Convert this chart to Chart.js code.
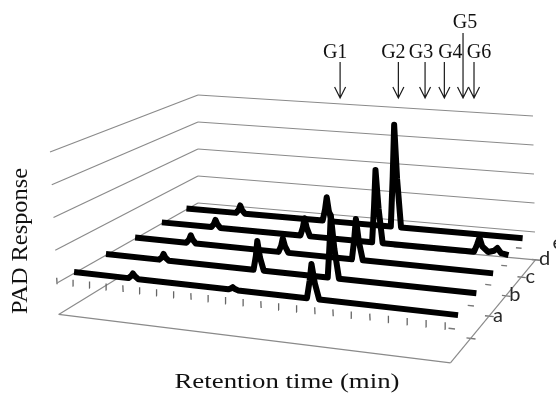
<!DOCTYPE html>
<html><head><meta charset="utf-8">
<script src="https://cdn.jsdelivr.net/npm/chart.js@4.4.1/dist/chart.umd.min.js"></script>
<style>html,body{margin:0;padding:0;background:#fff;}#wrap{width:556px;height:394px;position:relative;}</style>
</head><body><div id="wrap"><canvas id="c"></canvas></div>
<script>
// ---------------- DATA ----------------
const seriesNames = ['a', 'b', 'c', 'd', 'e'];
const seriesDepth = [0.1, 0.3, 0.5, 0.7, 0.9];
const timeA = [0, 3.36, 3.54, 3.65, 3.77, 3.97, 9.33, 9.5, 9.6, 9.7, 9.9, 13.86, 14.05, 14.2, 14.34, 14.55, 22.15];
const respA = [1, 1, 3, 5, 3, 1, 1, 2, 3, 2, 1, 1, 14, 27, 13, 1, 1];
const timeB = [0, 3.41, 3.59, 3.7, 3.82, 4.02, 9.26, 9.43, 9.55, 9.68, 9.88, 13.69, 13.86, 14.0, 14.14, 14.35, 22.15];
const respB = [1, 1, 3, 6, 3, 1, 1, 12, 24, 11, 1, 1, 26, 50, 24, 1, 1];
const timeC = [0, 3.41, 3.59, 3.7, 3.82, 4.02, 9.31, 9.48, 9.6, 9.73, 9.93, 13.84, 14.01, 14.15, 14.29, 14.5, 22.15];
const respC = [1, 1, 4, 7.5, 4, 1, 1, 6, 12.5, 6, 1, 1, 17, 34, 16, 1, 1];
const timeD = [0, 3.39, 3.57, 3.68, 3.8, 4.0, 9.29, 9.46, 9.58, 9.71, 9.91, 13.86, 14.03, 14.17, 14.31, 14.52, 20.1, 20.29, 20.45, 20.61, 20.95, 21.3, 21.5, 21.72, 22.15];
const respD = [1, 1, 4, 7.5, 4, 1, 1, 8, 16, 8, 1, 1, 31, 62, 30, 1, 1, 7, 13, 6, 2, 3.5, 6, 2, 1];
const timeE = [0, 3.51, 3.69, 3.8, 3.92, 4.12, 9.41, 9.58, 9.7, 9.83, 10.03, 13.89, 14.06, 14.2, 14.34, 14.55, 22.15];
const respE = [1, 1, 4, 8, 4, 1, 1, 11, 22, 10, 1, 1, 45, 90, 43, 1, 1];
const timeTicks = [0,1,2,3,4,5,6,7,8,9,10,11,12,13,14,15,16,17,18,19,20,21,22];
const responseGrid = [0, 25, 50, 75, 100];
const depthTicks = [0, 0.2, 0.4, 0.6, 0.8];
const floorDepthTicks = [0.2, 0.4, 0.6, 0.8, 1.0];
const peakLabels = ['G1', 'G2', 'G3', 'G4', 'G5', 'G6'];
const peakLabelTimes = [10.0, 13.9, 15.65, 16.9, 18.1, 18.8];
const timeMax = 22.5;
const respMax = 100;
const floorLevel = -24;

const seriesTimes = [timeA, timeB, timeC, timeD, timeE];
const seriesResp = [respA, respB, respC, respD, respE];

// ---------------- PROJECTION (layout) ----------------
const FL=[57,283], FR=[455,329], BL=[198,203], BR=[535,232];
const FLt=[50,152], FRt=[449,188], BLt=[198,95], BRt=[533,116];
const RU=1.086, RD=1.242;
function fu(u){ return u/(RU*(1-u)+u); }
function gd(d){ return d*RD/((1-d)+d*RD); }
function bil(A,B,C,D,s,t){
  const fx=A[0]+(B[0]-A[0])*s, fy=A[1]+(B[1]-A[1])*s;
  const bx=C[0]+(D[0]-C[0])*s, by=C[1]+(D[1]-C[1])*s;
  return [fx+(bx-fx)*t, fy+(by-fy)*t];
}
function proj(time, d, val){
  const s=fu(time/timeMax), t=gd(d), v=val/respMax;
  const g=bil(FL,FR,BL,BR,s,t), h=bil(FLt,FRt,BLt,BRt,s,t);
  return {x:g[0]+(h[0]-g[0])*v, y:g[1]+(h[1]-g[1])*v};
}
function floorPt(time, d){
  const p=proj(time,d,floorLevel);
  const s=fu(time/timeMax), t=gd(d);
  return {x:p.x-6*s*(1-t), y:p.y};
}

// ---------------- DATASETS ----------------
const datasets=[];
const GRAY='#8a8a8a';
function seg(pts, color, width, order){
  datasets.push({data:pts, showLine:true, borderColor:color, borderWidth:width,
    pointRadius:0, fill:false, tension:0, order:order, borderCapStyle:'butt'});
}
responseGrid.forEach(r=>seg([proj(0,1,r), proj(timeMax,1,r)], GRAY, 1.2, 20));
responseGrid.forEach(r=>seg([proj(0,1,r), proj(0,0,r)], GRAY, 1.2, 20));
timeTicks.forEach(t=>seg([proj(t,0,-1), proj(t,0,4)], '#666', 1.3, 20));
depthTicks.forEach(d=>seg([proj(timeMax*0.985,d,0), proj(timeMax,d,0)], '#777', 1.3, 20));
seg([floorPt(0,0), floorPt(timeMax,0)], GRAY, 1.2, 20);
seg([floorPt(timeMax,0), floorPt(timeMax,1)], GRAY, 1.2, 20);
seg([floorPt(timeMax*0.6,1), floorPt(timeMax,1)], GRAY, 1.2, 20);
seg([floorPt(0,0), floorPt(0,0.4)], GRAY, 1.2, 20);
floorDepthTicks.forEach(d=>seg([floorPt(timeMax*0.99,d), floorPt(timeMax*1.012,d)], '#777', 1.3, 20));
seriesNames.forEach((n,k)=>{
  const pts=seriesTimes[k].map((t,i)=>proj(t, seriesDepth[k], seriesResp[k][i]));
  datasets.push({label:n, data:pts, showLine:true, borderColor:'#000', borderWidth:6,
    pointRadius:0, fill:false, tension:0, order:k, borderJoinStyle:'round', borderCapStyle:'butt'});
});

// ---------------- TEXT / ANNOTATIONS ----------------
const labelDx=[-5,-5,-4,6,2,5];
const annot={
  id:'annot',
  afterDatasetsDraw(chart){
    const ctx=chart.ctx, xs=chart.scales.x, ys=chart.scales.y;
    ctx.save();
    ctx.strokeStyle='#1a1a1a'; ctx.fillStyle='#111'; ctx.lineWidth=1.2;
    ctx.font='20px "Liberation Serif", "Times New Roman", serif';
    ctx.textAlign='center'; ctx.textBaseline='alphabetic';
    peakLabels.forEach((lab,i)=>{
      const x=xs.getPixelForValue(proj(peakLabelTimes[i],1,100).x);
      const tip=ys.getPixelForValue(98);
      const top=ys.getPixelForValue(lab==='G5'?33:62);
      ctx.beginPath(); ctx.moveTo(x,top); ctx.lineTo(x,tip);
      ctx.moveTo(x-5.5,tip-11); ctx.lineTo(x,tip); ctx.lineTo(x+5.5,tip-11); ctx.stroke();
      ctx.fillText(lab, x+labelDx[i], ys.getPixelForValue(lab==='G5'?28:58));
    });
    ctx.font='20px Lato, "Liberation Sans", sans-serif';
    ctx.fillStyle='#2a2a2a'; ctx.textBaseline='middle';
    seriesNames.forEach((n,k)=>{
      const p=floorPt(timeMax, seriesDepth[k]+0.3);
      ctx.fillText(n, xs.getPixelForValue(p.x)+9, ys.getPixelForValue(p.y)-1);
    });
    ctx.fillStyle='#111';
    ctx.font='23px "Liberation Serif", "Times New Roman", serif';
    ctx.textBaseline='alphabetic';
    ctx.save(); ctx.translate(27,241); ctx.rotate(-Math.PI/2); ctx.scale(1.06,1);
    ctx.fillText('PAD Response',0,0); ctx.restore();
    ctx.font='22px "Liberation Serif", "Times New Roman", serif';
    ctx.save(); ctx.translate(287,388); ctx.scale(1.22,1);
    ctx.fillText('Retention time (min)',0,0); ctx.restore();
    ctx.restore();
  }
};

new Chart(document.getElementById('c'),{
  type:'scatter',
  data:{datasets},
  options:{
    responsive:true, maintainAspectRatio:false, animation:false, devicePixelRatio:1,
    layout:{padding:0},
    plugins:{legend:{display:false}, tooltip:{enabled:false}},
    scales:{
      x:{type:'linear', min:0, max:556, display:false},
      y:{type:'linear', min:0, max:394, reverse:true, display:false}
    }
  },
  plugins:[annot]
});
</script></body></html>
